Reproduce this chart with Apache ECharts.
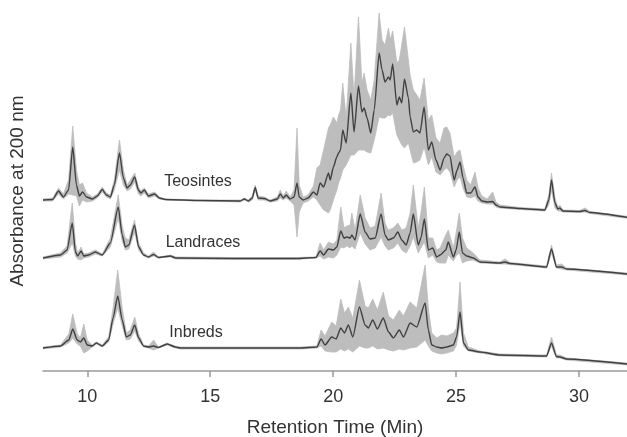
<!DOCTYPE html>
<html>
<head>
<meta charset="utf-8">
<title>Absorbance at 200 nm</title>
<script src="https://cdn.jsdelivr.net/npm/echarts@6/dist/echarts.min.js"></script>
<style>
  html, body { margin: 0; padding: 0; background: #fff; }
  #chart { width: 627px; height: 437px; }
</style>
</head>
<body>
<div id="chart"></div>
<script>
// retention time (min) and absorbance above each trace's own starting baseline
// mean = dark line, low / high = grey envelope

var teoTime = [8.2, 8.59, 8.83, 9.03, 9.24, 9.41, 9.56, 9.68, 9.81, 9.97, 10.21, 10.41, 10.61, 10.78, 10.94, 11.10, 11.31, 11.47, 11.62, 11.75, 11.93, 12.08, 12.18, 12.32, 12.49, 12.74, 12.93, 13.18, 14.60, 16.22, 16.39, 16.55, 16.71, 16.83, 16.95, 17.20, 17.44, 17.73, 17.85, 17.97, 18.09, 18.25, 18.41, 18.53, 18.62, 18.78, 18.98, 19.20, 19.34, 19.47, 19.61, 19.81, 19.88, 20.01, 20.15, 20.22, 20.30, 20.39, 20.53, 20.72, 20.85, 21.03, 21.17, 21.26, 21.38, 21.53, 21.67, 21.87, 21.99, 22.11, 22.25, 22.32, 22.42, 22.59, 22.69, 22.79, 22.90, 23.06, 23.13, 23.26, 23.40, 23.53, 23.70, 23.87, 24.01, 24.18, 24.35, 24.51, 24.62, 24.75, 24.92, 25.04, 25.16, 25.28, 25.43, 25.59, 25.77, 25.89, 26.05, 26.26, 26.49, 26.62, 26.78, 27.60, 28.61, 28.77, 28.88, 29.02, 29.14, 29.22, 29.34, 30.03, 30.24, 30.44, 31.95]
var teoMean = [0, 0.5, 9, 3, 10, 53, 15, 4, 8, 3, 1, 4, 10.5, 5, 3, 15, 47, 22, 12, 15, 23, 10, 7, 10, 4, 6, 2, 0.5, -0.5, -1, 1, -1, 2, 12.5, 2, 1.5, -1, 1, 6, 2, 5, 1, 3, 17, 3, 0, 2, 8, 5, 17, 13, 27, 20, 33, 43, 47, 50, 70, 57, 107, 68, 114, 88, 92, 82, 67, 90, 147, 130, 118, 123, 120, 136, 95, 103, 97, 121, 102, 83, 68, 70, 67, 93, 50, 58, 40, 30, 42, 46, 44, 20, 30, 38, 22, 7, 7, 13, 3, -1, -2, -1.5, -5, -7, -8.5, -10, 0, 20, -3, -9, -8, -11, -11.5, -10.5, -12.5, -17.3]
var teoLow = [-1, -1, 6, 1, 6, 5, 4, -6, 0, -2, -1, 2, 8, 3, 1, 10, 30, 15, 9, 11, 18, 6, 4, 7, 2, 4, 1, 0, -1, -2, 0, -2, 0, 10, 0, 0, -2, -1, 2, 0, 2, -1, -5, -37, -12, -3, -1, 3, 0, -5, -10, -13, -10, 0, 10, 17, 22, 30, 35, 45, 45, 50, 50, 50, 48, 47, 60, 83, 82, 82, 85, 84, 87, 65, 60, 55, 52, 57, 50, 37, 38, 40, 53, 35, 43, 28, 25, 30, 32, 28, 13, 20, 23, 12, 3, 2, 4, -1, -3, -4, -4, -7, -8, -9.5, -11, -5, 10, -8, -11, -11, -12, -12.5, -12, -13.5, -18.3]
var teoHigh = [1, 2, 12, 6, 20, 74, 30, 15, 17, 7, 3, 6, 13, 7, 5, 20, 60, 30, 15, 20, 27, 13, 9, 12, 6, 8, 3, 1, 0, 0, 2, 0, 4, 15, 4, 3, 0, 3, 10, 4, 9, 3, 10, 72, 15, 3, 5, 14, 32, 35, 50, 72, 75, 83, 77, 85, 90, 117, 82, 157, 103, 183, 117, 127, 110, 100, 120, 187, 160, 155, 172, 160, 169, 137, 140, 155, 173, 140, 125, 110, 105, 100, 122, 80, 85, 62, 57, 72, 73, 67, 43, 48, 50, 35, 20, 15, 28, 12, 4, 1, 8, -2, -5, -7.5, -9, 5, 27, 2, -7, -5, -10, -10.5, -8, -11.5, -16.3]

var lanTime = [8.2, 8.91, 9.18, 9.39, 9.52, 9.61, 9.75, 9.86, 10.05, 10.33, 10.61, 10.94, 11.26, 11.42, 11.55, 11.69, 11.92, 12.09, 12.29, 12.49, 12.70, 12.90, 13.38, 13.60, 16.00, 18.50, 19.30, 19.47, 19.61, 19.81, 20.01, 20.15, 20.31, 20.44, 20.56, 20.69, 20.76, 20.89, 21.10, 21.30, 21.50, 21.71, 21.95, 22.11, 22.24, 22.45, 22.63, 22.79, 22.97, 23.13, 23.26, 23.46, 23.57, 23.71, 23.87, 24.05, 24.21, 24.35, 24.58, 24.68, 24.89, 25.00, 25.13, 25.26, 25.43, 25.70, 25.97, 26.78, 26.99, 27.19, 28.68, 28.88, 29.08, 29.29, 29.49, 31.95]
var lanMean = [0, 3, 8, 35, 6, 2, 7, 2, 3, 6, 3, 15, 51, 23, 11, 13, 33, 11, 3, 1, 3.5, 0.5, 2, 0, -0.5, -0.5, 0.5, 7, 3, 9, 8, 11, 27, 20, 21, 20, 23, 18, 44, 26, 19, 20, 44, 23, 18, 20, 26, 18, 13, 25, 44, 13, 20, 39, 8, 10, 1, 3, 8, 16, 1, 8, 26, 5, 2, 0, -4, -5, -4, -5.5, -9, 9, -9, -9, -11, -16]
var lanLow = [-1, 1, 5, 15, 2, -1, -2, 0, 1, 4, 2, 11, 40, 17, 8, 9, 26, 8, 2, 0, 2, 0, 1, -1, -1.5, -1.5, 0, 2, -1, 1, 0, 3, 11, 10, 12, 10, 12, 9, 25, 14, 8, 10, 21, 12, 8, 10, 15, 8, 5, 12, 21, 5, 10, 16, 0, 3, -4, -5, -5, 3, -3, 2, 5, -5, -3, -2, -5, -6, -6, -6.5, -10, 5, -10, -11, -12, -17]
var lanHigh = [1, 5, 12, 55, 15, 5, 11, 4, 5, 8, 4, 20, 63, 32, 20, 18, 38, 15, 5, 2, 6, 1, 3, 1, 0.5, 0.5, 1, 15, 8, 16, 14, 18, 51, 30, 32, 33, 45, 28, 63, 40, 30, 32, 65, 35, 28, 30, 35, 28, 30, 45, 73, 30, 45, 71, 20, 20, 8, 10, 23, 28, 10, 25, 45, 20, 10, 5, -2, -4, -1, -4.5, -8, 13, -7, -6, -10, -15]

var inbTime = [8.2, 8.91, 9.25, 9.41, 9.59, 9.72, 9.86, 10.00, 10.20, 10.37, 10.61, 10.87, 11.05, 11.24, 11.42, 11.59, 11.75, 11.93, 12.09, 12.29, 12.49, 12.70, 12.89, 13.25, 13.58, 13.79, 18.66, 19.34, 19.51, 19.67, 19.94, 20.12, 20.31, 20.46, 20.62, 20.80, 21.07, 21.30, 21.43, 21.61, 21.80, 22.04, 22.25, 22.45, 22.69, 22.86, 23.13, 23.40, 23.74, 23.87, 24.01, 24.21, 24.41, 24.62, 24.89, 25.02, 25.16, 25.30, 25.50, 25.97, 26.78, 28.68, 28.88, 29.08, 29.22, 29.49, 31.95]
var inbMean = [0, 2, 8, 19, 8, 6, 10, 3, 2, 5, 2, 8, 30, 52, 28, 11, 13, 23, 10, 2, 1, 2, 0.5, 4, 1, 0, 0, 1, 9, 3, 11, 9, 20, 15, 23, 11, 41, 23, 20, 28, 19, 30, 16, 10, 18, 11, 25, 21, 45, 18, 3, 1, 0, 1, 3, 11, 36, 5, -2, -4, -7, -8, 5, -8.5, -9, -11, -16]
var inbLow = [-1, 1, 5, 10, 4, 2, -5, -3, 1, 4, 1, 6, 24, 40, 22, 8, 9, 17, 7, 1, 0, -2, 0, 3, 0, -1, -1, 0, 2, -3, -4, -4, -1, -3, -1, -4, 2, 0, 0, 2, -1, 0, -2, -3, -1, -2, 0, 1, 8, 2, -3, -5, -6, -5, -3, 3, 25, 2, -3, -5, -8, -9, 2, -10, -10, -12, -17]
var inbHigh = [1, 3, 14, 34, 14, 10, 24, 8, 3, 6, 3, 11, 40, 78, 40, 15, 18, 31, 14, 3, 2, 8, 1, 5, 2, 1, 1, 2, 18, 12, 26, 22, 49, 35, 41, 30, 68, 42, 40, 49, 38, 56, 32, 28, 38, 32, 46, 40, 83, 40, 15, 10, 13, 12, 15, 20, 66, 15, 1, -3, -6, -7, 11, -7, -7, -10, -15]

var traceNames = ['Teosintes', 'Landraces', 'Inbreds']
var xTicks = [10, 15, 20, 25, 30]

// how far each trace is lifted above the x axis
var traceOffset = [171, 113, 23]
var labelPos = [[198, 182], [203, 243], [196, 333]]

var FONT = "'Liberation Sans', Arial, Helvetica, sans-serif"
var BAND = '#bdbdbd'
var LINE = '#404040'

var traces = [
  { time: teoTime, mean: teoMean, low: teoLow, high: teoHigh },
  { time: lanTime, mean: lanMean, low: lanLow, high: lanHigh },
  { time: inbTime, mean: inbMean, low: inbLow, high: inbHigh }
]

function pairs (time, vals, off) {
  return time.map(function (t, i) { return [t, vals[i] + off] })
}

// grey envelope: polygon along the high values, back along the low values
function renderBand (params, api) {
  var i = params.dataIndex
  var tr = traces[i]
  var off = traceOffset[i]
  var pts = []
  var k
  for (k = 0; k < tr.time.length; k++) {
    pts.push(api.coord([tr.time[k], tr.high[k] + off]))
  }
  for (k = tr.time.length - 1; k >= 0; k--) {
    pts.push(api.coord([tr.time[k], tr.low[k] + off]))
  }
  return {
    type: 'polygon',
    shape: { points: pts },
    style: { fill: BAND, stroke: BAND, lineWidth: 0.8 }
  }
}

var series = [{
  name: 'range',
  type: 'custom',
  renderItem: renderBand,
  silent: true,
  clip: true,
  z: 1,
  data: traces.map(function (tr, i) { return [tr.time[0], traceOffset[i]] })
}]

traces.forEach(function (tr, i) {
  series.push({
    name: traceNames[i],
    type: 'line',
    symbol: 'none',
    smooth: 0.2,
    smoothMonotone: 'x',
    z: 3,
    lineStyle: { color: LINE, width: 1.4 },
    data: pairs(tr.time, tr.mean, traceOffset[i])
  })
})

var chart = echarts.init(document.getElementById('chart'))
chart.setOption({
  animation: false,
  backgroundColor: '#fff',
  textStyle: { fontFamily: FONT },
  grid: { left: 43, right: 0, top: 11, bottom: 66, outerBoundsMode: 'none', containLabel: false },
  xAxis: {
    type: 'value',
    min: 8.2,
    max: 31.95,
    name: 'Retention Time (Min)',
    nameLocation: 'middle',
    nameGap: 47,
    nameTextStyle: { fontSize: 19, color: '#333', fontFamily: FONT },
    axisLine: { lineStyle: { color: '#9a9a9a', width: 1.5 } },
    axisTick: { length: 6, lineStyle: { color: '#9a9a9a', width: 1.5 }, customValues: xTicks },
    axisLabel: { fontSize: 18, color: '#333', margin: 17, customValues: xTicks },
    splitLine: { show: false }
  },
  yAxis: {
    type: 'value',
    min: 0,
    max: 360,
    name: 'Absorbance at 200 nm',
    nameLocation: 'middle',
    nameGap: 16,
    nameTextStyle: { fontSize: 19, color: '#333', fontFamily: FONT },
    axisLine: { show: false },
    axisTick: { show: false },
    axisLabel: { show: false },
    splitLine: { show: false }
  },
  graphic: traceNames.map(function (n, i) {
    return {
      type: 'text',
      x: labelPos[i][0],
      y: labelPos[i][1],
      z: 10,
      style: {
        text: n,
        fill: '#333',
        font: '16px ' + FONT,
        align: 'center',
        verticalAlign: 'middle'
      }
    }
  }),
  series: series
})
</script>
</body>
</html>
